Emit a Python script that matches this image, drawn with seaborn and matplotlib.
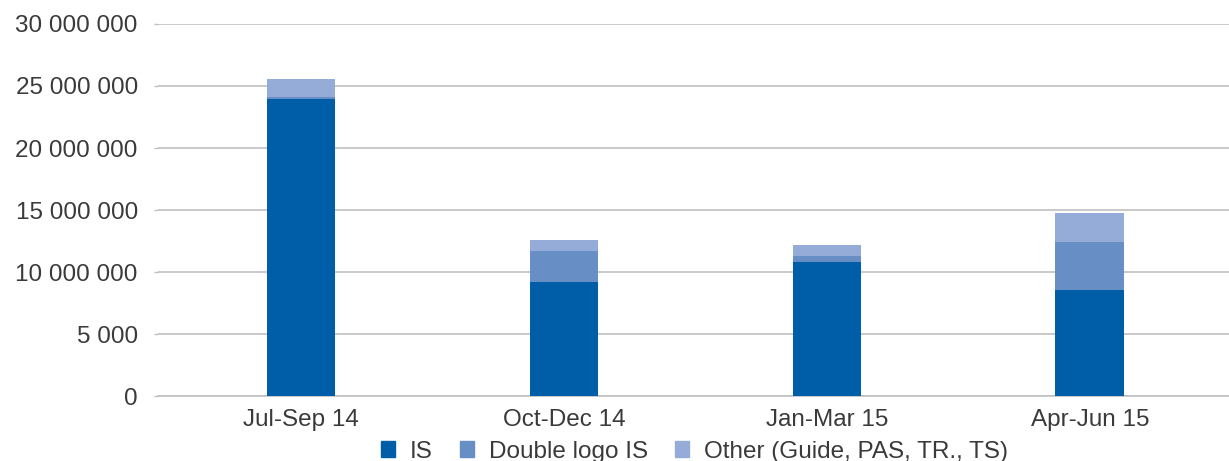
import matplotlib
matplotlib.use('Agg')
import matplotlib.pyplot as plt
import matplotlib.patches as mpatches
import seaborn as sns
import pandas as pd

# values
quarters = ['Jul-Sep 14', 'Oct-Dec 14', 'Jan-Mar 15', 'Apr-Jun 15']
is_vals = [23950000, 9190000, 10810000, 8550000]
double_logo = [160000, 2500000, 480000, 3870000]
other = [1450000, 890000, 890000, 2340000]

y_ticks = [0, 5000000, 10000000, 15000000, 20000000, 25000000, 30000000]
y_tick_labels = ['0', '5 000', '10 000 000', '15 000 000', '20 000 000', '25 000 000', '30 000 000']

colors = {'IS': '#005EA8', 'Double logo IS': '#688EC6', 'Other (Guide, PAS, TR., TS)': '#95ABD8'}

df = pd.DataFrame({'quarter': quarters, 'IS': is_vals, 'Double logo IS': double_logo, 'Other': other})
df['lvl2'] = df['IS'] + df['Double logo IS']
df['total'] = df['lvl2'] + df['Other']

sns.set_style('white')
plt.rcParams['font.family'] = ['Liberation Sans', 'DejaVu Sans']
fs = 17.5
txt = '#3a3a3a'

fig = plt.figure(figsize=(12.29, 4.61), dpi=100)
ax = fig.add_axes([158 / 1229, 65 / 461, 1 - 158 / 1229, 372 / 461])

# stacked bars drawn as overlapping cumulative totals
bw = 0.262
bar_kw = dict(width=bw, ax=ax, saturation=1, linewidth=0, edgecolor='none', zorder=3)
sns.barplot(data=df, x='quarter', y='total', color=colors['Other (Guide, PAS, TR., TS)'], **bar_kw)
sns.barplot(data=df, x='quarter', y='lvl2', color=colors['Double logo IS'], **bar_kw)
sns.barplot(data=df, x='quarter', y='IS', color=colors['IS'], **bar_kw)

ax.set_xlim(-0.544, 3.529)
ax.set_ylim(0, 30000000)
ax.set_yticks(y_ticks)
ax.set_yticklabels(y_tick_labels)
ax.set_xlabel('')
ax.set_ylabel('')

ax.yaxis.grid(True, color='#c0c0c0', linewidth=1.2, zorder=0)
ax.set_axisbelow(True)
for s in ['top', 'right', 'left']:
    ax.spines[s].set_visible(False)
ax.spines['bottom'].set_color('#c0c0c0')
ax.spines['bottom'].set_linewidth(1.2)

ax.tick_params(axis='y', which='both', left=True, length=3, width=1, color='#c0c0c0',
               labelsize=fs, labelcolor=txt, pad=11.5)
ax.tick_params(axis='x', bottom=False, labelsize=fs, labelcolor=txt, pad=6)

handles = [mpatches.Patch(color=c, label=l) for l, c in colors.items()]
fig.legend(handles=handles, loc='center', bbox_to_anchor=(0.565, 0.02), ncol=3, frameon=False,
           fontsize=fs, labelcolor=txt, handlelength=0.6, handleheight=0.6,
           handletextpad=0.6, columnspacing=1.1)

fig.savefig('out.png', dpi=100)
